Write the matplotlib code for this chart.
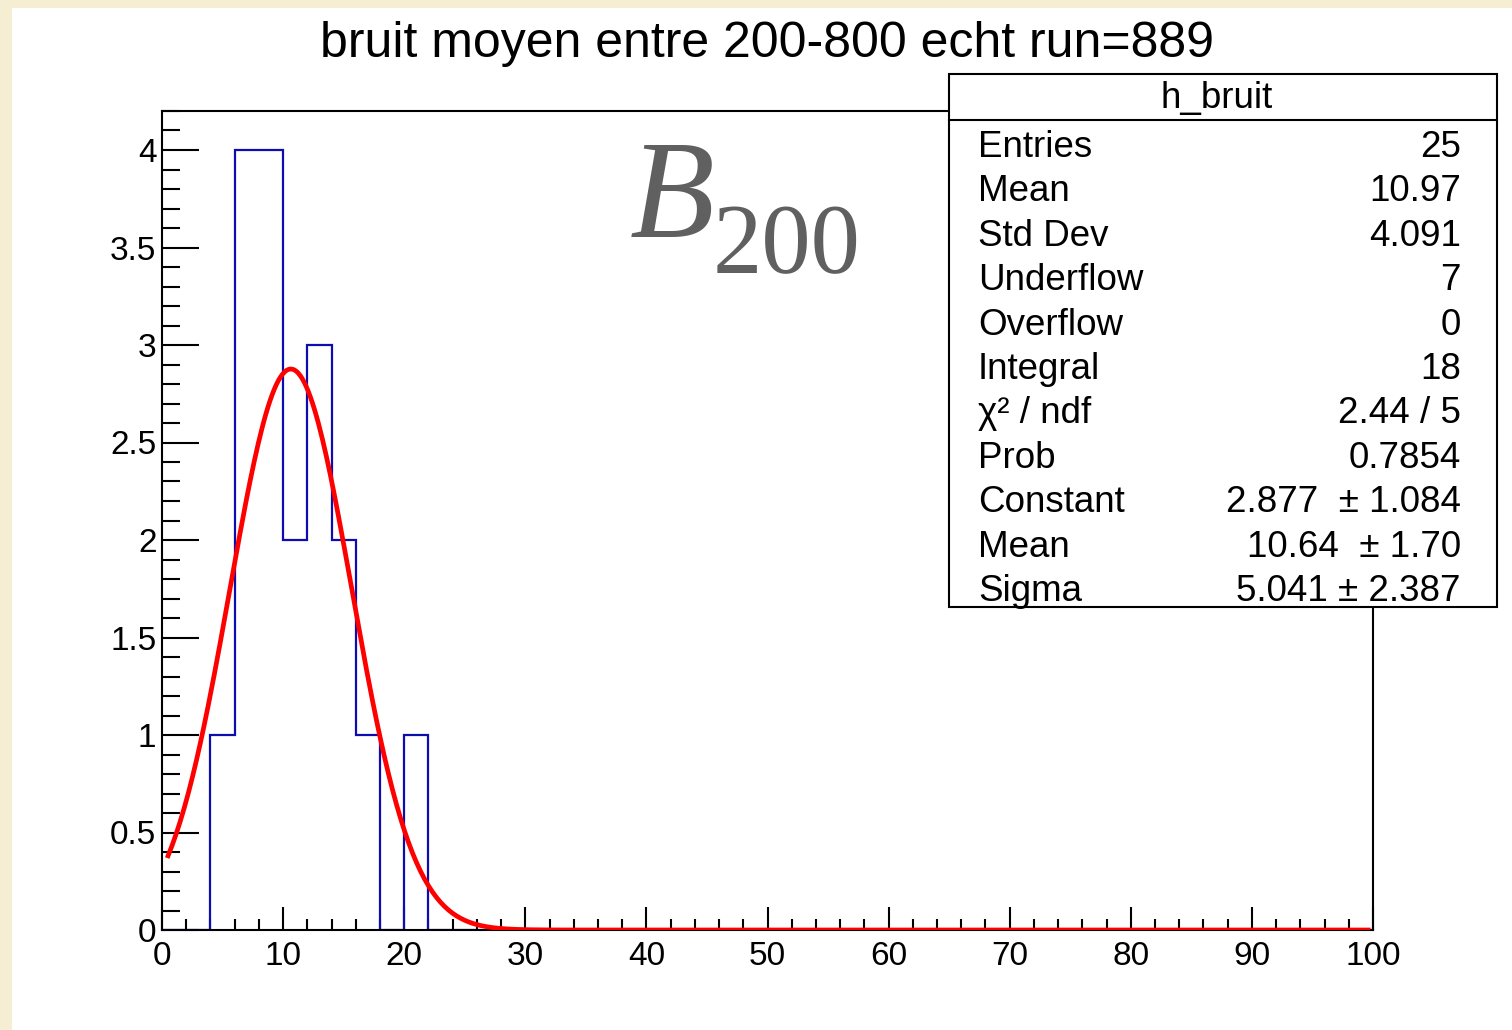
import numpy as np
import matplotlib
matplotlib.use("Agg")
from matplotlib import pyplot as plt
from matplotlib.patches import Rectangle
from matplotlib.ticker import MultipleLocator

plt.rcParams['font.family'] = ['Liberation Sans', 'DejaVu Sans']

# histogram h_bruit : 50 bins between 0 and 100
bin_edges = np.linspace(0, 100, 51)
counts = np.zeros(50)
filled_bins = [2, 3, 4, 5, 6, 7, 8, 10]
filled_counts = [1, 4, 4, 2, 3, 2, 1, 1]
counts[filled_bins] = filled_counts

# gaussian fit parameters (from stats box)
fit_const, fit_mean, fit_sigma = 2.877, 10.64, 5.041

stat_labels = ["Entries", "Mean", "Std Dev", "Underflow", "Overflow", "Integral",
               "χ² / ndf", "Prob", "Constant", "Mean", "Sigma"]
stat_values = ["25", "10.97", "4.091", "7", "0", "18",
               "2.44 / 5", "0.7854", "2.877  ± 1.084", "10.64  ± 1.70", "5.041 ± 2.387"]

W, H = 1512, 1030
def fx(x): return x / W
def fy(y): return 1 - y / H

fig = plt.figure(figsize=(15.12, 10.3), dpi=100, facecolor='#f6eed2')
fig.add_artist(Rectangle((fx(12), 0), 1 - fx(12), fy(8), transform=fig.transFigure,
                         facecolor='white', edgecolor='none', zorder=-10))

ax = fig.add_axes([fx(162), fy(930), fx(1373) - fx(162), fy(111) - fy(930)])
ax.stairs(counts, bin_edges, color='#0c0cb0', lw=1.6, zorder=2)

xf = np.linspace(0.5, 99.6, 600)
yf = fit_const * np.exp(-0.5 * ((xf - fit_mean) / fit_sigma) ** 2)
ax.plot(xf, yf, color='#ff0000', lw=3.4, zorder=3)

ax.set_xlim(0, 100)
ax.set_ylim(0, 4.2)
ax.xaxis.set_major_locator(MultipleLocator(10))
ax.xaxis.set_minor_locator(MultipleLocator(2))
ax.yaxis.set_minor_locator(MultipleLocator(0.1))
ax.set_yticks(np.arange(0, 4.01, 0.5))
ax.set_yticklabels(['0', '0.5', '1', '1.5', '2', '2.5', '3', '3.5', '4'])
ax.tick_params(axis='both', which='both', direction='in', width=1.5, color='black',
               labelsize=24)
ax.tick_params(axis='x', which='major', length=16.5, pad=8)
ax.tick_params(axis='x', which='minor', length=8)
ax.tick_params(axis='y', which='major', length=26.5, pad=4)
ax.tick_params(axis='y', which='minor', length=13)
for s in ax.spines.values():
    s.set_linewidth(1.5)

fig.text(fx(767), fy(57), "bruit moyen entre 200-800 echt run=889", ha='center',
         va='baseline', fontsize=36)

# B_200 label
fig.text(fx(630), fy(237), "B", family='Liberation Serif', style='italic',
         fontsize=100, color='#606060', va='baseline', ha='left')
fig.text(fx(713), fy(272), "200", family='Liberation Serif', fontsize=71,
         color='#606060', va='baseline', ha='left')

# stats box
fig.add_artist(Rectangle((fx(949), fy(607)), fx(1497) - fx(949), fy(74) - fy(607),
                         transform=fig.transFigure, facecolor='white',
                         edgecolor='black', lw=1.5, zorder=5))
fig.add_artist(plt.Line2D([fx(949), fx(1497)], [fy(120), fy(120)],
                          transform=fig.transFigure, color='black', lw=1.5, zorder=6))
fig.text(fx(1217), fy(108), "h_bruit", ha='center', va='baseline', fontsize=26.5, zorder=7)
for i, (lab, val) in enumerate(zip(stat_labels, stat_values)):
    yb = fy(157 + 44.4 * i)
    fig.text(fx(978), yb, lab, ha='left', va='baseline', fontsize=26.5, zorder=7)
    fig.text(fx(1461), yb, val, ha='right', va='baseline', fontsize=26.5, zorder=7)

fig.savefig("out.png", dpi=100, facecolor=fig.get_facecolor())
